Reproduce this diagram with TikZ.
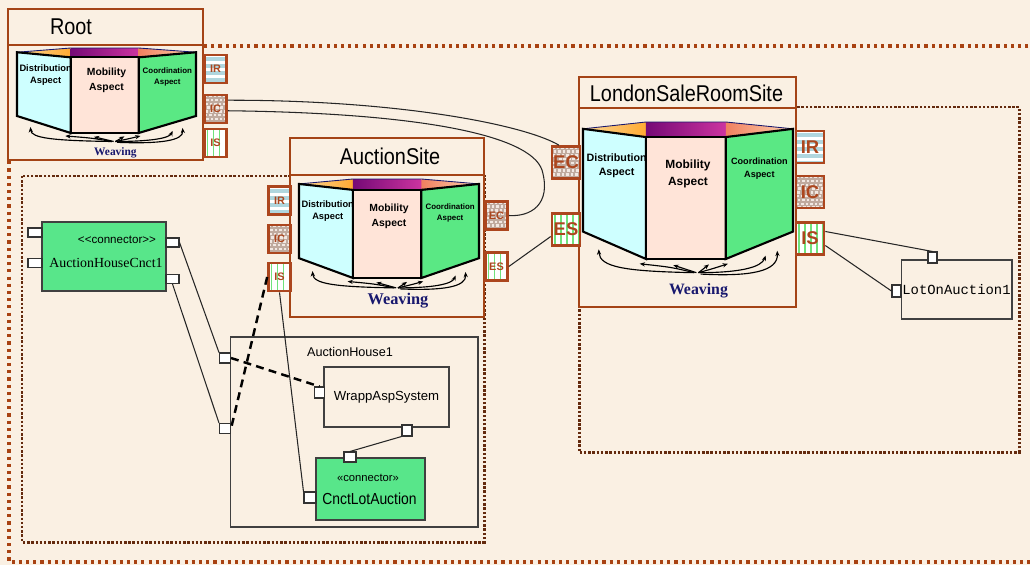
\documentclass[tikz,border=0pt]{standalone}
\usepackage{fontspec}
\setmainfont{Liberation Serif}
\setsansfont{Liberation Sans}
\setmonofont{Liberation Mono}
\usepackage{tikz}
\usetikzlibrary{calc,arrows.meta,shadows}

\definecolor{cream}{RGB}{250,240,227}
\definecolor{framebrown}{RGB}{164,68,22}
\definecolor{portbrown}{RGB}{172,70,30}
\definecolor{dotbrown}{RGB}{168,66,18}
\definecolor{dotdark}{RGB}{100,42,14}
\definecolor{irblue}{RGB}{176,214,222}
\definecolor{icgray}{RGB}{192,170,158}
\definecolor{icdot}{RGB}{242,232,226}
\definecolor{isgreen}{RGB}{112,226,124}
\definecolor{conngreen}{RGB}{88,230,138}
\definecolor{distcyan}{RGB}{206,255,255}
\definecolor{mobpink}{RGB}{255,228,216}
\definecolor{coordgreen}{RGB}{90,232,132}
\definecolor{lidorangeA}{RGB}{255,170,50}
\definecolor{lidorangeB}{RGB}{252,215,150}
\definecolor{lidpurpleA}{RGB}{118,10,118}
\definecolor{lidpurpleB}{RGB}{204,52,160}
\definecolor{lidsalmonA}{RGB}{240,128,96}
\definecolor{lidsalmonB}{RGB}{255,212,176}
\definecolor{weavenavy}{RGB}{24,24,110}

\tikzset{
  frame/.style={draw=framebrown, line width=1.4pt, fill=cream},
  title/.style={font=\sffamily\fontsize{11.3}{12}\selectfont, yscale=1.15, inner sep=0pt},
  outerdots/.style={draw=dotbrown, line width=1.8pt, dash pattern=on 1.8pt off 2.3pt},
  innerdots/.style={draw=dotdark, line width=1.7pt, dash pattern=on 1.4pt off 1.0pt},
  port/.style={draw=portbrown, line width=1.5pt, inner sep=0pt, text=portbrown,
    minimum width=0.44cm, minimum height=0.56cm,
    font=\sffamily\bfseries\fontsize{6.2}{6.5}\selectfont},
  bigport/.style={minimum width=0.56cm, minimum height=0.64cm,
    font=\sffamily\bfseries\fontsize{10.5}{11}\selectfont},
  irport/.style={port, fill=white, path picture={
    \foreach \k in {0,...,4}
      \fill[irblue] ($(path picture bounding box.north west)+(0,{2+\k*7})$) rectangle +(40,4);}},
  icport/.style={port, fill=icgray, path picture={
    \foreach \i in {0,...,7} \foreach \j in {0,...,9}
      \fill[icdot] ($(path picture bounding box.north west)+({\i*4.5+mod(\j*3,5)*0.6},{\j*3.8})$) rectangle +(2.6,2.4);}},
  isport/.style={port, fill=white, path picture={
    \foreach \k in {0,...,6}
      \fill[isgreen] ($(path picture bounding box.north west)+({2+\k*6},0)$) rectangle +(1.8,40);}},
  umlport/.style={draw=black!80, fill=white, line width=0.6pt, inner sep=0pt,
    minimum width=0.22cm, minimum height=0.2cm},
  connbox/.style={draw=black!75, fill=conngreen, line width=0.9pt, inner sep=0pt,
    drop shadow={shadow xshift=0.6pt, shadow yshift=-0.6pt, fill=black!45, opacity=1}},
  partbox/.style={draw=black!75, fill=cream, line width=0.6pt, inner sep=0pt,
    drop shadow={shadow xshift=0.7pt, shadow yshift=-0.7pt, fill=black!25, opacity=1}},
  wire/.style={draw=black!85, line width=0.6pt},
  bindwire/.style={draw=black, line width=1.4pt, dash pattern=on 4.5pt off 3pt},
  face/.style={draw=black, line width=1.2pt},
  distlabel/.style={font=\sffamily\bfseries\fontsize{5.3}{6.8}\selectfont, align=center, inner sep=0pt},
  moblabel/.style={font=\sffamily\bfseries\fontsize{5.9}{8.5}\selectfont, align=center, inner sep=0pt},
  coordlabel/.style={font=\sffamily\bfseries\fontsize{4.5}{6.2}\selectfont, align=center, inner sep=0pt},
  weavearrow/.style={-{Stealth[length=3pt, width=2.4pt]}, line width=0.65pt},
  % three aspect faces with the weaving arrows, in a unit box
  pics/aspects/.style 2 args={code={
    \shade[left color=lidorangeB, right color=lidorangeA] (0,0.05) -- (0.3,0) -- (0.3,0.11) -- cycle;
    \shade[left color=lidpurpleA, right color=lidpurpleB] (0.3,0) rectangle (0.68,0.11);
    \shade[left color=lidsalmonA, right color=lidsalmonB] (0.68,0) -- (1,0.05) -- (0.68,0.11) -- cycle;
    \draw[weavenavy, line width=0.5pt] (0,0.05) -- (0.3,0) -- (0.68,0) -- (1,0.05);
    \filldraw[face, fill=distcyan] (0,0.05) -- (0.3,0.11) -- (0.3,1) -- (0,0.8) -- cycle;
    \filldraw[face, fill=mobpink] (0.3,0.11) rectangle (0.68,1);
    \filldraw[face, fill=coordgreen] (0.68,0.11) -- (1,0.05) -- (1,0.8) -- (0.68,1) -- cycle;
    \node[distlabel, scale=#1] (-dist) at (0.16,0.32) {Distribution\\Aspect};
    \node[moblabel, scale=#1] (-mob) at (0.5,0.38) {Mobility\\Aspect};
    \node[coordlabel, scale=#1] (-coord) at (0.84,0.34) {Coordination\\Aspect};
    \node[font=\rmfamily\bfseries\fontsize{#2}{#2}\selectfont, text=weavenavy, inner sep=0pt] (-weave) at (0.55,1.23) {Weaving};
    \draw[weavearrow] (0.53,1.1) .. controls (0.2,1.09) and (0.08,1.06) .. (0.075,0.93);
    \draw[weavearrow] (0.53,1.1) .. controls (0.42,1.06) .. (0.27,1.035);
    \draw[weavearrow] (0.54,1.1) -- (0.43,1.045);
    \draw[weavearrow] (0.55,1.1) -- (0.6,1.04);
    \draw[weavearrow] (0.55,1.1) .. controls (0.62,1.07) .. (0.69,1.035);
    \draw[weavearrow] (0.55,1.1) .. controls (0.75,1.1) and (0.85,1.06) .. (0.87,0.975);
    \draw[weavearrow] (0.56,1.11) .. controls (0.8,1.13) and (0.93,1.09) .. (0.925,0.94);
  }}
}

\begin{document}
\begin{tikzpicture}[x=0.02cm, y=-0.02cm]
  \useasboundingbox (0,0) rectangle (1030,565);
  \fill[cream] (0,0) rectangle (1030,565);

  % instance areas
  \draw[outerdots] (9,46) rectangle (1040,562);
  \draw[innerdots] (22,176) rectangle (484,542);
  \draw[innerdots] (579,107) rectangle (1019,452);

  % AuctionHouse1 part with its inner parts
  \node[partbox, minimum width=4.96cm, minimum height=3.8cm] (ah1) at (354,432) {};
  \node[font=\sffamily\fontsize{7.2}{8}\selectfont, inner sep=0pt] (ah1name) at (350,352) {AuctionHouse1};
  \node[partbox, minimum width=2.5cm, minimum height=1.2cm,
        font=\sffamily\fontsize{7.5}{8}\selectfont] (wrap) at (386.5,397) {WrappAspSystem};
  \node[connbox, minimum width=2.18cm, minimum height=1.24cm] (cnct) at (370.5,489) {};
  \node[font=\sffamily\fontsize{6.4}{7}\selectfont, inner sep=0pt] (cnctst) at (368,478) {«connector»};
  \node[font=\sffamily\fontsize{7.9}{8}\selectfont, yscale=1.15, inner sep=0pt] (cnctname) at (369.5,499) {CnctLotAuction};
  \node[umlport] (ah1P1) at (225,358) {};
  \node[umlport] (ah1P2) at (225,428.5) {};
  \node[umlport, minimum width=0.2cm, minimum height=0.22cm] (wrapL) at (319.5,392.5) {};
  \node[umlport, minimum width=0.2cm, minimum height=0.22cm] (wrapB) at (407,430.5) {};
  \node[umlport, minimum width=0.24cm] (cnctT) at (350,457) {};
  \node[umlport, minimum width=0.24cm, minimum height=0.22cm] (cnctL) at (310,497.5) {};

  % AuctionHouseCnct1
  \node[connbox, minimum width=2.48cm, minimum height=1.38cm] (ahc) at (104,256.5) {};
  \node[font=\sffamily\fontsize{6.6}{7}\selectfont, inner sep=0pt] (ahcst) at (117,240) {<\kern0pt<connector>\kern0pt>};
  \node[font=\rmfamily\fontsize{7.9}{8}\selectfont, inner sep=0pt] (ahcname) at (106,263) {AuctionHouseCnct1};
  \node[umlport, minimum width=0.28cm, minimum height=0.18cm] (ahcL1) at (35,232.5) {};
  \node[umlport, minimum width=0.28cm, minimum height=0.18cm] (ahcL2) at (35,263) {};
  \node[umlport, minimum width=0.26cm, minimum height=0.18cm] (ahcR1) at (172.5,242.5) {};
  \node[umlport, minimum width=0.26cm, minimum height=0.18cm] (ahcR2) at (172.5,279) {};

  % LotOnAuction1
  \node[partbox, minimum width=2.22cm, minimum height=1.18cm,
        font=\ttfamily\fontsize{7.9}{8}\selectfont] (lot) at (956.5,289.5) {LotOnAuction1};
  \node[umlport, minimum width=0.18cm, minimum height=0.22cm] (lotT) at (932.5,257.5) {};
  \node[umlport, minimum width=0.18cm, minimum height=0.24cm] (lotL) at (896.5,291) {};

  % Root
  \draw[frame] (8,45) rectangle (203,160);
  \draw[frame] (8,9) rectangle (203,45);
  \node[title] (root) at (71,27) {Root};
  \coordinate (rootasp) at (17,48);
  \pic[x=3.58cm, y=-1.7cm] (rasp) at (rootasp) {aspects={1}{6.5}};
  \node[irport] (rootIR) at (215.5,69) {IR};
  \node[icport] (rootIC) at (215.5,109) {IC};
  \node[isport] (rootIS) at (215.5,143) {IS};

  % AuctionSite
  \draw[frame] (290,175) rectangle (484,317);
  \draw[frame] (290,138) rectangle (484,175);
  \node[title] (auc) at (390,156) {AuctionSite};
  \coordinate (aucasp) at (299,179);
  \pic[x=3.6cm, y=-1.98cm] (aasp) at (aucasp) {aspects={1}{9.3}};
  \node[irport] (aucIR) at (279.5,200.5) {IR};
  \node[icport] (aucIC) at (279.5,239) {IC};
  \node[isport] (aucIS) at (279.5,277) {IS};
  \node[icport] (aucEC) at (496.5,215.5) {EC};
  \node[isport] (aucES) at (496.5,266.5) {ES};

  % LondonSaleRoomSite
  \draw[frame] (579,108) rectangle (796,307);
  \draw[frame] (579,77) rectangle (796,108);
  \node[title] (lon) at (686.5,93) {LondonSaleRoomSite};
  \coordinate (lonasp) at (583,122);
  \pic[x=4.2cm, y=-2.74cm] (lasp) at (lonasp) {aspects={1.15}{9}};
  \node[icport, bigport] (lonEC) at (566,162.5) {EC};
  \node[isport, bigport] (lonES) at (566,229.5) {ES};
  \node[irport, bigport] (lonIR) at (810,147) {IR};
  \node[icport, bigport] (lonIC) at (810,192) {IC};
  \node[isport, bigport] (lonIS) at (810,238.5) {IS};

  % connectors
  \draw[wire] ([yshift=5pt]rootIC.east) .. controls (400,100) and (525,125) .. ([xshift=-4pt]lonEC.north);
  \draw[wire] ([yshift=-1pt]rootIC.east) .. controls (420,113) and (530,135) .. (542,170)
    .. controls (552,205) and (530,217) .. (aucEC.east);
  \draw[wire] (aucES.east) -- ([yshift=-4pt]lonES.west);
  \draw[wire] ([yshift=4pt]lonIS.east) -- (lotT.north);
  \draw[wire] ([yshift=-4pt]lonIS.east) -- (lotL.west);
  \draw[wire] (ahcR1.east) -- (ah1P1.north west);
  \draw[wire] (ahcR2.south) -- (ah1P2.north west);
  \draw[bindwire] (aucIS.west) -- (ah1P2.east);
  \draw[bindwire] (ah1P1.east) -- (wrapL.north);
  \draw[wire] (aucIS.south) -- (cnctL.north west);
  \draw[wire] (wrapB.south west) -- (cnctT.north);
\end{tikzpicture}
\end{document}
